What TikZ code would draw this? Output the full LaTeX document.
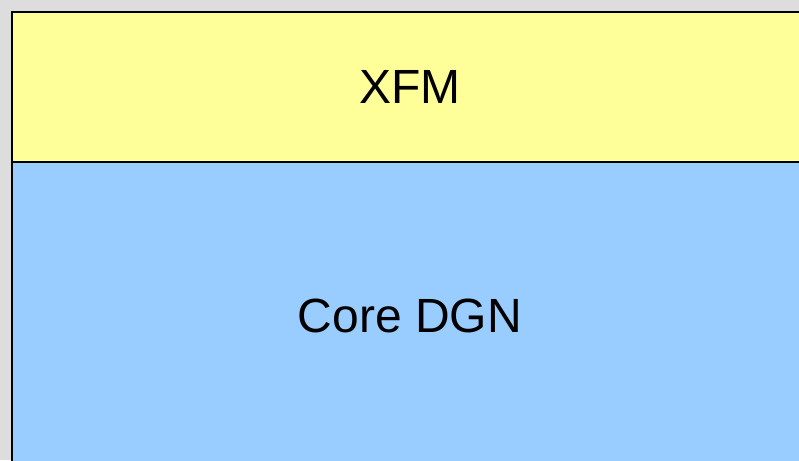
\documentclass[tikz,border=0pt]{standalone}
\usepackage{fontspec}
\setmainfont{Liberation Sans}
\usetikzlibrary{positioning}

\definecolor{bggray}{HTML}{DDDDDD}
\definecolor{xfmyellow}{HTML}{FFFF99}
\definecolor{dgnblue}{HTML}{99CCFF}

\begin{document}
\begin{tikzpicture}[
    x=1pt, y=-1pt,
    % Styles
    layer/.style={draw, line width=2pt, minimum width=796pt, inner sep=0pt, outer sep=0pt,
                  font=\fontsize{48}{52}\selectfont, anchor=north west},
    node distance=0pt
]
    % Background and visible area
    \fill[bggray] (0,0) rectangle (799,460);
    \useasboundingbox (0,0) rectangle (799,460);
    \clip (0,0) rectangle (799,460);

    % XFM layer
    \node[layer, fill=xfmyellow, minimum height=150pt] (xfm) at (12,12) {XFM};

    % Core DGN layer
    \node[layer, fill=dgnblue, minimum height=308pt, below=0pt of xfm.south west, anchor=north west] (coredgn) {Core DGN};
\end{tikzpicture}
\end{document}
